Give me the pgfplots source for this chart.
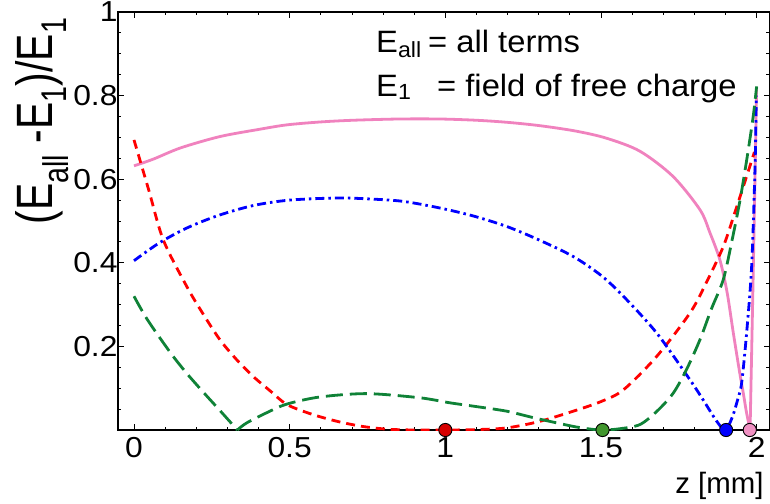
\documentclass[border=0pt]{standalone}
\usepackage{fontspec}
\setmainfont{Liberation Sans}
\usepackage{pgfplots}
\pgfplotsset{compat=1.18}

\definecolor{curvepink}{RGB}{240,130,190}
\definecolor{curvered}{RGB}{255,0,0}
\definecolor{curveblue}{RGB}{0,0,255}
\definecolor{curvegreen}{RGB}{15,130,55}
\definecolor{dotred}{RGB}{215,0,0}
\definecolor{dotgreen}{RGB}{65,150,45}
\definecolor{dotblue}{RGB}{0,0,255}
\definecolor{dotpink}{RGB}{240,145,195}

\pgfplotsset{
  pinkline/.style={curvepink, solid, line width=2.8bp, smooth, tension=0.5},
  redline/.style={curvered, line width=2.8bp, smooth, tension=0.5, dash pattern=on 9bp off 6bp},
  blueline/.style={curveblue, line width=2.8bp, smooth, tension=0.5, dash pattern=on 9bp off 4bp on 2.5bp off 4bp},
  greenline/.style={curvegreen, line width=2.8bp, smooth, tension=0.5, dash pattern=on 17bp off 7bp},
  zerodot/.style={only marks, mark=*, mark size=6.6bp, mark options={fill=#1, draw=black, line width=0.9bp}},
}
\newcommand{\sub}[2][-5bp]{\raisebox{#1}{\fontsize{22}{22}\selectfont #2}}
\newcommand{\tl}[1]{\scalebox{1.1}[1]{#1}}

\begin{document}
\begin{tikzpicture}
\useasboundingbox (-118bp,-74bp) rectangle (652bp,430bp);
\begin{axis}[
  at={(0,0)}, anchor=south west,
  scale only axis, width=651.5bp, height=418bp,
  xmin=-0.0514, xmax=2.0414, ymin=0, ymax=1,
  xtick={0,0.5,1,1.5,2}, xticklabels={\tl{0},\tl{0.5},\tl{1},\tl{1.5},\tl{2}},
  minor x tick num=4,
  ytick={0,0.2,0.4,0.6,0.8,1},
  yticklabels={,\tl{0.2},\tl{0.4},\tl{0.6},\tl{0.8},\raisebox{-5bp}{\tl{1}}},
  minor y tick num=3,
  tick align=inside, major tick length=6bp, minor tick length=3.5bp,
  tick style={black, line width=0.8bp},
  axis line style={black, line width=1.2bp},
  ticklabel style={font=\fontsize{29}{29}\selectfont},
  /pgf/number format/assume math mode=true,
  xticklabel style={yshift=-4bp},
  yticklabel style={xshift=3bp},
  xlabel={z [mm]},
  xlabel style={at={(axis description cs:1,0)}, anchor=base east,
    yshift=-63bp, xshift=-2.5bp, font=\fontsize{29.5}{29.5}\selectfont},
  ylabel={\scalebox{1}[1.25]{(E\textsubscript{all} -E\textsubscript{1})/E\textsubscript{1}}},
  ylabel style={at={(axis description cs:-0.0998,0.7392)}, anchor=base,
    font=\fontsize{41}{41}\selectfont},
  clip mode=individual,
]
% field of all terms relative to the free-charge field
\addplot[pinkline] coordinates {
 (0,0.632) (0.062,0.648) (0.15,0.675) (0.276,0.702) (0.4,0.719) (0.491,0.730)
 (0.6,0.737) (0.703,0.741) (0.85,0.744) (0.983,0.744) (1.1,0.741) (1.2,0.736)
 (1.304,0.728) (1.42,0.715) (1.518,0.698) (1.625,0.667) (1.731,0.607)
 (1.818,0.527) (1.85,0.472) (1.882,0.407) (1.905,0.33) (1.925,0.233)
 (1.945,0.14) (1.957,0.089) (1.968,0.04) (1.979,0.0)};
\addplot[pinkline] coordinates {(1.979,0.0) (1.99,0.41) (2.0,0.82)};
\addplot[redline] coordinates {
 (0,0.694) (0.047,0.575) (0.094,0.455) (0.169,0.344) (0.22,0.28) (0.276,0.216)
 (0.33,0.168) (0.383,0.128) (0.44,0.092) (0.491,0.061) (0.57,0.038)
 (0.651,0.021) (0.73,0.009) (0.812,0.002) (0.9,0.0) (1.0,0.0) (1.1,0.001)
 (1.197,0.005) (1.3,0.02) (1.411,0.045) (1.5,0.068) (1.572,0.096)
 (1.679,0.176) (1.786,0.280) (1.84,0.355) (1.893,0.439) (1.93,0.52)
 (1.968,0.607) (1.993,0.665)};
\addplot[blueline] coordinates {
 (0,0.405) (0.08,0.447) (0.169,0.483) (0.27,0.513) (0.383,0.537) (0.5,0.550)
 (0.651,0.555) (0.75,0.553) (0.864,0.547) (0.983,0.531) (1.09,0.512)
 (1.197,0.487) (1.3,0.455) (1.411,0.415) (1.5,0.370) (1.572,0.320)
 (1.679,0.232) (1.786,0.120) (1.83,0.07) (1.861,0.033) (1.885,0.008)
 (1.902,0) (1.923,0.033) (1.94,0.075) (1.952,0.113) (1.968,0.233)
 (1.984,0.391) (1.995,0.631) (1.999,0.80)};
\addplot[greenline] coordinates {
 (0,0.320) (0.043,0.264) (0.118,0.184) (0.17,0.135) (0.225,0.0885) (0.278,0.045)
 (0.332,0)};
\addplot[greenline] coordinates {
 (0.332,0) (0.362,0.017) (0.431,0.043) (0.491,0.062) (0.597,0.079) (0.748,0.087)
 (0.919,0.077) (1.015,0.065) (1.1,0.056) (1.197,0.045) (1.28,0.03)
 (1.358,0.017) (1.43,0.006) (1.5,0) (1.56,0.003) (1.625,0.013) (1.68,0.045)
 (1.732,0.088) (1.775,0.145) (1.818,0.216) (1.855,0.29) (1.893,0.36)
 (1.92,0.45) (1.947,0.551) (1.969,0.65) (1.989,0.75) (2.0,0.822)};
% zeros of each curve
\addplot[zerodot=dotred] coordinates {(1.0,0)};
\addplot[zerodot=dotgreen] coordinates {(1.505,0)};
\addplot[zerodot=dotblue] coordinates {(1.902,0)};
\addplot[zerodot=dotpink] coordinates {(1.978,0)};
\end{axis}
\begin{scope}[every node/.style={inner sep=0pt, font=\fontsize{31}{31}\selectfont}]
\node[anchor=base west] at (258bp,377bp) {\scalebox{1.06}[1]{E\sub{all}}};
\node[anchor=base west] at (310bp,377bp) {\scalebox{1.06}[1]{= all terms}};
\node[anchor=base west] at (258bp,333.5bp) {\scalebox{1.06}[1]{E\sub[-3.5bp]{1}}};
\node[anchor=base west] at (319bp,333.5bp) {\scalebox{1.06}[1]{= field of free charge}};
\end{scope}
\end{tikzpicture}
\end{document}
